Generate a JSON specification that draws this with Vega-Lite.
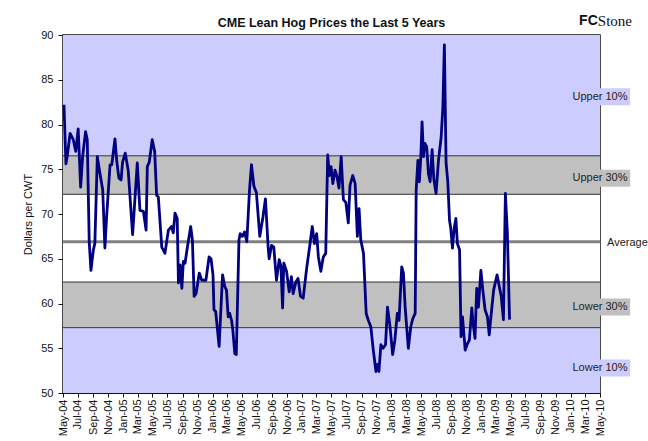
{
  "$schema": "https://vega.github.io/schema/vega-lite/v6.json",
  "width": 537,
  "height": 358,
  "autosize": {"type": "none"},
  "padding": {"left": 63, "top": 35, "right": 48, "bottom": 48},
  "background": "white",
  "title": {"text": "CME Lean Hog Prices the Last 5 Years", "font": "Liberation Sans", "fontSize": 12.5, "fontWeight": "bold", "color": "#111111", "anchor": "middle", "offset": -15.5},
  "config": {
    "font": "Liberation Sans",
    "view": {"stroke": "#111111", "strokeWidth": 1.5},
    "axis": {"grid": false}
  },
  "datasets": {
    "prices": [
      {"date":"2004-05-05","price":82.2},{"date":"2004-05-13","price":75.6},{"date":"2004-05-19","price":76.6},{"date":"2004-05-30","price":79.0},
      {"date":"2004-06-12","price":78.3},{"date":"2004-06-22","price":77.0},{"date":"2004-07-02","price":79.5},{"date":"2004-07-12","price":73.0},
      {"date":"2004-07-20","price":76.4},{"date":"2004-08-01","price":79.2},{"date":"2004-08-08","price":78.3},{"date":"2004-08-16","price":66.9},
      {"date":"2004-08-23","price":63.7},{"date":"2004-09-02","price":66.0},{"date":"2004-09-08","price":66.7},{"date":"2004-09-18","price":76.4},
      {"date":"2004-09-29","price":74.5},{"date":"2004-10-10","price":72.7},{"date":"2004-10-19","price":66.2},{"date":"2004-10-26","price":69.7},
      {"date":"2004-11-09","price":75.5},{"date":"2004-11-16","price":75.5},{"date":"2004-11-29","price":78.4},{"date":"2004-12-06","price":76.0},
      {"date":"2004-12-15","price":74.0},{"date":"2004-12-24","price":73.8},{"date":"2004-12-30","price":75.8},{"date":"2005-01-10","price":76.8},
      {"date":"2005-01-22","price":74.9},{"date":"2005-02-09","price":67.7},{"date":"2005-02-28","price":75.7},{"date":"2005-03-11","price":70.4},
      {"date":"2005-03-25","price":70.3},{"date":"2005-04-05","price":68.2},{"date":"2005-04-10","price":75.3},{"date":"2005-04-18","price":75.8},
      {"date":"2005-04-30","price":78.3},{"date":"2005-05-10","price":77.0},{"date":"2005-05-18","price":72.1},{"date":"2005-05-25","price":71.9},
      {"date":"2005-06-08","price":66.3},{"date":"2005-06-21","price":65.6},{"date":"2005-07-05","price":68.2},{"date":"2005-07-18","price":68.6},
      {"date":"2005-07-25","price":67.9},{"date":"2005-08-01","price":70.1},{"date":"2005-08-10","price":69.5},{"date":"2005-08-15","price":62.3},
      {"date":"2005-08-22","price":64.3},{"date":"2005-08-29","price":61.7},{"date":"2005-09-04","price":64.7},{"date":"2005-09-11","price":64.5},
      {"date":"2005-09-20","price":66.2},{"date":"2005-10-04","price":68.6},{"date":"2005-10-11","price":67.1},{"date":"2005-10-18","price":60.8},
      {"date":"2005-10-26","price":61.1},{"date":"2005-11-08","price":63.4},{"date":"2005-11-18","price":62.6},{"date":"2005-12-05","price":62.6},
      {"date":"2005-12-18","price":65.2},{"date":"2005-12-26","price":65.0},{"date":"2006-01-03","price":63.2},{"date":"2006-01-07","price":59.3},
      {"date":"2006-01-14","price":59.1},{"date":"2006-01-28","price":55.2},{"date":"2006-02-11","price":63.2},{"date":"2006-02-20","price":61.9},
      {"date":"2006-02-27","price":61.5},{"date":"2006-03-06","price":58.5},{"date":"2006-03-12","price":58.9},{"date":"2006-03-20","price":58.1},
      {"date":"2006-03-25","price":57.0},{"date":"2006-04-02","price":54.4},{"date":"2006-04-08","price":54.3},{"date":"2006-04-19","price":67.1},
      {"date":"2006-04-24","price":67.8},{"date":"2006-05-03","price":67.5},{"date":"2006-05-12","price":68.0},{"date":"2006-05-21","price":66.9},
      {"date":"2006-06-01","price":72.7},{"date":"2006-06-09","price":75.5},{"date":"2006-06-19","price":73.1},{"date":"2006-06-29","price":72.4},
      {"date":"2006-07-13","price":67.5},{"date":"2006-07-26","price":69.7},{"date":"2006-08-05","price":71.7},{"date":"2006-08-16","price":66.3},
      {"date":"2006-08-20","price":65.0},{"date":"2006-08-30","price":66.5},{"date":"2006-09-08","price":66.3},{"date":"2006-09-19","price":62.6},
      {"date":"2006-09-30","price":64.9},{"date":"2006-10-07","price":64.2},{"date":"2006-10-14","price":59.5},{"date":"2006-10-19","price":64.5},
      {"date":"2006-10-30","price":63.6},{"date":"2006-11-10","price":61.3},{"date":"2006-11-19","price":63.0},{"date":"2006-11-26","price":61.1},
      {"date":"2006-12-07","price":62.4},{"date":"2006-12-16","price":62.8},{"date":"2006-12-26","price":60.8},{"date":"2007-01-06","price":60.6},
      {"date":"2007-01-20","price":63.9},{"date":"2007-02-03","price":66.7},{"date":"2007-02-12","price":68.6},{"date":"2007-02-21","price":66.7},
      {"date":"2007-03-02","price":67.8},{"date":"2007-03-09","price":65.2},{"date":"2007-03-19","price":63.6},{"date":"2007-03-29","price":65.2},
      {"date":"2007-04-08","price":65.6},{"date":"2007-04-16","price":76.6},{"date":"2007-04-23","price":74.3},{"date":"2007-04-30","price":75.3},
      {"date":"2007-05-07","price":73.4},{"date":"2007-05-16","price":74.9},{"date":"2007-05-23","price":74.3},{"date":"2007-06-01","price":72.9},
      {"date":"2007-06-10","price":76.4},{"date":"2007-06-19","price":71.6},{"date":"2007-06-29","price":71.3},{"date":"2007-07-09","price":69.0},
      {"date":"2007-07-16","price":73.2},{"date":"2007-07-27","price":74.3},{"date":"2007-08-06","price":73.4},{"date":"2007-08-15","price":67.5},
      {"date":"2007-08-22","price":70.6},{"date":"2007-08-29","price":67.1},{"date":"2007-09-09","price":65.6},{"date":"2007-09-20","price":58.9},
      {"date":"2007-09-29","price":58.1},{"date":"2007-10-09","price":57.4},{"date":"2007-10-19","price":54.8},{"date":"2007-10-30","price":52.4},
      {"date":"2007-11-05","price":53.2},{"date":"2007-11-11","price":52.4},{"date":"2007-11-19","price":55.4},{"date":"2007-11-28","price":55.0},
      {"date":"2007-12-08","price":55.4},{"date":"2007-12-16","price":59.6},{"date":"2007-12-26","price":57.5},{"date":"2008-01-06","price":54.3},
      {"date":"2008-01-15","price":55.9},{"date":"2008-01-25","price":58.9},{"date":"2008-02-01","price":58.1},{"date":"2008-02-12","price":64.1},
      {"date":"2008-02-19","price":63.4},{"date":"2008-02-26","price":59.6},{"date":"2008-03-10","price":55.0},{"date":"2008-03-20","price":57.4},
      {"date":"2008-03-28","price":58.3},{"date":"2008-04-07","price":58.9},{"date":"2008-04-11","price":72.7},{"date":"2008-04-18","price":76.0},
      {"date":"2008-04-24","price":73.6},{"date":"2008-04-30","price":76.4},{"date":"2008-05-05","price":80.3},{"date":"2008-05-11","price":76.4},
      {"date":"2008-05-16","price":77.9},{"date":"2008-05-24","price":77.5},{"date":"2008-05-31","price":74.5},{"date":"2008-06-07","price":73.6},
      {"date":"2008-06-15","price":77.2},{"date":"2008-06-22","price":73.9},{"date":"2008-07-01","price":72.3},{"date":"2008-07-11","price":76.0},
      {"date":"2008-07-22","price":78.6},{"date":"2008-07-29","price":82.0},{"date":"2008-08-04","price":88.9},{"date":"2008-08-11","price":75.7},
      {"date":"2008-08-18","price":73.6},{"date":"2008-08-25","price":69.3},{"date":"2008-08-30","price":68.4},{"date":"2008-09-06","price":66.2},
      {"date":"2008-09-13","price":68.4},{"date":"2008-09-20","price":69.5},{"date":"2008-09-26","price":66.7},{"date":"2008-10-05","price":66.0},
      {"date":"2008-10-11","price":56.3},{"date":"2008-10-17","price":58.5},{"date":"2008-10-28","price":54.8},{"date":"2008-11-06","price":55.5},
      {"date":"2008-11-14","price":55.9},{"date":"2008-11-24","price":59.5},{"date":"2008-11-28","price":58.1},{"date":"2008-12-07","price":56.1},
      {"date":"2008-12-14","price":61.7},{"date":"2008-12-21","price":59.6},{"date":"2008-12-31","price":63.7},{"date":"2009-01-08","price":61.5},
      {"date":"2009-01-17","price":59.3},{"date":"2009-01-27","price":58.5},{"date":"2009-02-03","price":56.5},{"date":"2009-02-10","price":58.5},
      {"date":"2009-02-21","price":61.5},{"date":"2009-03-07","price":63.2},{"date":"2009-03-16","price":61.9},{"date":"2009-03-24","price":60.8},
      {"date":"2009-04-02","price":58.2},{"date":"2009-04-10","price":72.3},{"date":"2009-04-18","price":67.9},{"date":"2009-04-27","price":58.2}
    ],
    "bands": [
      {"zone":"Upper 10%","lo":76.5,"hi":90},
      {"zone":"Upper 30%","lo":72.2,"hi":76.5},
      {"zone":"Middle","lo":62.4,"hi":72.2},
      {"zone":"Lower 30%","lo":57.3,"hi":62.4},
      {"zone":"Lower 10%","lo":50,"hi":57.3}
    ],
    "labels": [
      {"zone":"Upper 10%","label":"Upper 10%","value":83.1},
      {"zone":"Upper 30%","label":"Upper 30%","value":74.0},
      {"zone":"Lower 30%","label":"Lower 30%","value":59.6},
      {"zone":"Lower 10%","label":"Lower 10%","value":52.8}
    ]
  },
  "layer": [
    {
      "data": {"name": "prices"},
      "mark": {"type": "line", "color": "#000080", "strokeWidth": 2.8, "strokeJoin": "round", "opacity": 0},
      "encoding": {
        "x": {"field": "date", "type": "temporal",
          "scale": {"domain": [{"year": 2004, "month": 5, "date": 1}, {"year": 2010, "month": 5, "date": 1}], "nice": false},
          "axis": {"title": null, "format": "%b-%y", "tickCount": {"interval": "month", "step": 2}, "labelAngle": -90,
            "labelFontSize": 11, "labelColor": "#111111", "labelOverlap": false, "labelFlush": false, "labelPadding": 2,
            "tickColor": "#111111", "tickSize": 4, "domainColor": "#111111", "grid": false}},
        "y": {"field": "price", "type": "quantitative", "scale": {"domain": [50, 90], "nice": false, "zero": false},
          "axis": {"title": "Dollars per CWT", "values": [50,55,60,65,70,75,80,85,90], "labelFontSize": 11, "labelColor": "#111111",
            "titleFontSize": 11, "titleFontWeight": "normal", "titleColor": "#111111", "titlePadding": 7,
            "tickColor": "#111111", "tickSize": 5, "labelPadding": 5, "domainColor": "#111111", "grid": false}}
      }
    },
    {
      "data": {"name": "bands"},
      "mark": {"type": "rect"},
      "encoding": {
        "y": {"field": "lo", "type": "quantitative", "scale": {"domain": [50, 90], "nice": false, "zero": false}},
        "y2": {"field": "hi"},
        "color": {"field": "zone", "type": "nominal", "legend": null,
          "scale": {"domain": ["Upper 10%","Upper 30%","Middle","Lower 30%","Lower 10%"], "range": ["#CCCCFF","#C0C0C0","#FFFFFF","#C0C0C0","#CCCCFF"]}}
      }
    },
    {
      "data": {"name": "bands"},
      "transform": [{"filter": "datum.lo > 50"}],
      "mark": {"type": "rule", "color": "#333333", "strokeWidth": 1},
      "encoding": {
        "y": {"field": "lo", "type": "quantitative"}
      }
    },
    {
      "data": {"values": [{"label": "Average", "value": 66.9}]},
      "mark": {"type": "rule", "color": "#808080", "strokeWidth": 3},
      "encoding": {
        "y": {"field": "value", "type": "quantitative"}
      }
    },
    {
      "data": {"name": "prices"},
      "mark": {"type": "line", "color": "#000080", "strokeWidth": 2.8, "strokeJoin": "round"},
      "encoding": {
        "x": {"field": "date", "type": "temporal"},
        "y": {"field": "price", "type": "quantitative"}
      }
    },
    {
      "data": {"name": "labels"},
      "mark": {"type": "rule", "strokeWidth": 17, "strokeCap": "butt"},
      "encoding": {
        "x": {"datum": {"year": 2010, "month": 1, "date": 1}, "type": "temporal"},
        "x2": {"datum": {"year": 2010, "month": 9, "date": 1}},
        "y": {"field": "value", "type": "quantitative"},
        "color": {"field": "zone", "type": "nominal", "legend": null}
      }
    },
    {
      "data": {"name": "labels"},
      "mark": {"type": "text", "align": "center", "baseline": "middle", "fontSize": 11, "color": "#222222"},
      "encoding": {
        "x": {"datum": {"year": 2010, "month": 5, "date": 1}, "type": "temporal"},
        "y": {"field": "value", "type": "quantitative"},
        "text": {"field": "label"}
      }
    },
    {
      "data": {"values": [{"label": "Average", "value": 66.8}]},
      "mark": {"type": "text", "align": "left", "baseline": "middle", "fontSize": 11, "color": "#222222", "dx": 7},
      "encoding": {
        "x": {"datum": {"year": 2010, "month": 5, "date": 1}, "type": "temporal"},
        "y": {"field": "value", "type": "quantitative"},
        "text": {"field": "label"}
      }
    },
    {
      "data": {"values": [{"part": "FC", "value": 91.6}]},
      "mark": {"type": "text", "align": "right", "baseline": "middle", "fontSize": 14, "fontWeight": "bold", "font": "Liberation Sans", "color": "#111111"},
      "encoding": {
        "x": {"datum": {"year": 2010, "month": 4, "date": 22}, "type": "temporal"},
        "y": {"field": "value", "type": "quantitative"},
        "text": {"field": "part"}
      }
    },
    {
      "data": {"values": [{"part": "Stone", "value": 91.6}]},
      "mark": {"type": "text", "align": "left", "baseline": "middle", "fontSize": 15, "font": "Liberation Serif", "color": "#111111"},
      "encoding": {
        "x": {"datum": {"year": 2010, "month": 4, "date": 22}, "type": "temporal"},
        "y": {"field": "value", "type": "quantitative"},
        "text": {"field": "part"}
      }
    }
  ]
}
